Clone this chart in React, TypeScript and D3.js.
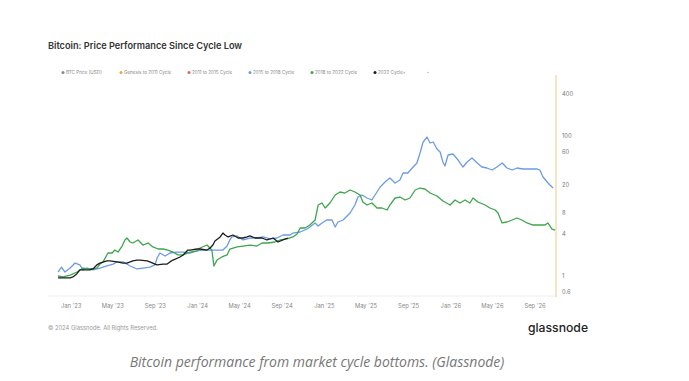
import React from "react";
import * as d3 from "d3";

const title = "Bitcoin: Price Performance Since Cycle Low";
const legendLabels = ["BTC Price [USD]", "Genesis to 2011 Cycle", "2011 to 2015 Cycle", "2015 to 2018 Cycle", "2018 to 2022 Cycle", "2022 Cycle+"];
const legendColors = ["#8a8a8a", "#e8a93a", "#e8645a", "#6b9be8", "#3ca64a", "#1c1c1c"];
const yTicks = [0.6, 1, 4, 8, 20, 60, 100, 400];
const cycleLow = new Date(2022, 10, 21);
const lastDay = 1429;

// [days since cycle low, multiple of cycle-low price]
const cycle2015: [number, number][] = [
  [3, 1.14], [13, 1.34], [23, 1.14], [38, 1.3], [52, 1.53], [66, 1.44], [75, 1.22], [87, 1.3], [104, 1.22],
  [124, 1.3], [144, 1.39], [162, 1.48], [173, 1.59], [191, 1.59], [211, 1.39], [231, 1.26], [248, 1.3],
  [268, 1.34], [283, 1.44], [289, 1.81], [297, 2.13], [312, 1.93], [326, 2.13], [346, 2.2], [364, 2.2],
  [384, 2.13], [404, 2.28], [422, 2.35], [442, 2.35], [462, 2.35], [479, 2.35], [491, 2.68], [499, 3.27],
  [505, 3.61], [520, 3.73], [537, 3.27], [557, 3.49], [577, 3.49], [595, 3.61], [615, 3.38], [635, 3.49],
  [652, 3.85], [673, 3.85], [681, 4.11], [702, 4.25], [722, 4.69], [730, 5.01], [745, 5.72], [754, 5.18],
  [765, 5.72], [779, 6.31], [794, 6.31], [803, 5.01], [811, 5.91], [826, 6.31], [846, 7.94], [860, 10.33],
  [869, 13.44], [881, 14.36], [895, 13.01], [909, 12.18], [918, 14.36], [933, 18.68], [947, 22.02],
  [961, 25.12], [976, 21.31], [990, 23.52], [999, 29.61], [1013, 29.61], [1028, 36.06], [1039, 41.13],
  [1048, 57.16], [1057, 82.08], [1068, 96.7], [1077, 79.43], [1086, 82.08], [1097, 65.2], [1106, 59.07],
  [1114, 42.51], [1120, 37.27], [1129, 53.52], [1143, 55.31], [1158, 45.4], [1172, 36.06], [1184, 42.51],
  [1198, 48.48], [1213, 41.13], [1227, 36.06], [1241, 34.9], [1256, 32.68], [1270, 36.06], [1285, 41.13],
  [1299, 34.9], [1314, 32.68], [1328, 34.9], [1345, 33.77], [1366, 33.77], [1386, 33.77], [1394, 32.68],
  [1403, 25.96], [1415, 22.02], [1423, 19.95], [1432, 18.07],
];

const cycle2018: [number, number][] = [
  [3, 1.0], [17, 0.97], [38, 1.03], [58, 1.14], [75, 1.3], [95, 1.26], [115, 1.3], [124, 1.48], [133, 1.59],
  [147, 2.13], [159, 2.13], [167, 2.35], [176, 2.2], [188, 2.68], [196, 3.27], [202, 3.49], [211, 3.06],
  [219, 2.96], [234, 3.27], [248, 2.77], [263, 2.96], [277, 2.6], [292, 2.43], [306, 2.43], [320, 2.35],
  [335, 2.2], [349, 2.0], [364, 2.0], [384, 2.2], [404, 2.28], [413, 2.51], [433, 2.77], [447, 2.35],
  [453, 1.39], [462, 1.69], [476, 1.87], [491, 2.0], [499, 2.43], [520, 2.6], [537, 2.68], [557, 2.77],
  [577, 2.68], [592, 2.96], [609, 2.96], [629, 3.06], [644, 3.27], [664, 3.38], [681, 3.61], [693, 3.98],
  [702, 4.85], [716, 4.85], [730, 5.35], [745, 6.31], [754, 10.33], [765, 11.04], [774, 9.36], [788, 11.04],
  [803, 14.36], [817, 15.85], [831, 15.33], [846, 16.93], [860, 15.85], [875, 14.36], [883, 11.41],
  [895, 10.33], [909, 11.04], [924, 9.36], [938, 9.36], [953, 8.77], [961, 10.33], [976, 13.01],
  [990, 13.44], [1005, 12.18], [1019, 13.01], [1034, 16.93], [1048, 18.07], [1062, 17.49], [1077, 15.33],
  [1097, 13.89], [1114, 11.79], [1135, 10.33], [1149, 12.18], [1163, 11.04], [1178, 12.18], [1192, 11.04],
  [1201, 13.01], [1215, 11.41], [1236, 10.33], [1250, 9.36], [1265, 8.77], [1273, 7.94], [1285, 5.72],
  [1299, 5.91], [1314, 6.31], [1328, 6.74], [1342, 6.31], [1357, 5.72], [1374, 5.35], [1394, 5.35],
  [1409, 5.35], [1417, 5.72], [1429, 4.69], [1438, 4.54],
];

const cycle2022: [number, number][] = [
  [3, 0.94], [17, 0.94], [38, 0.94], [46, 0.97], [57, 1.07], [66, 1.22], [75, 1.22], [95, 1.22], [104, 1.26],
  [115, 1.44], [124, 1.53], [144, 1.64], [153, 1.64], [173, 1.59], [191, 1.53], [202, 1.53], [219, 1.64],
  [231, 1.69], [240, 1.69], [260, 1.64], [268, 1.59], [283, 1.48], [289, 1.44], [306, 1.48], [318, 1.48],
  [326, 1.59], [335, 1.69], [355, 1.87], [364, 2.0], [378, 2.35], [384, 2.35], [404, 2.43], [413, 2.43],
  [433, 2.35], [442, 2.51], [450, 2.77], [456, 3.16], [471, 3.61], [479, 4.11], [485, 3.85], [494, 3.61],
  [508, 3.85], [523, 3.49], [537, 3.49], [549, 3.61], [557, 3.73], [572, 3.49], [592, 3.49], [606, 3.27],
  [624, 3.49], [638, 3.06], [652, 3.27], [667, 3.49],
];

const seriesList = [
  { name: "2015 to 2018 Cycle", data: cycle2015, color: "#6b9be8" },
  { name: "2018 to 2022 Cycle", data: cycle2018, color: "#3ca64a" },
  { name: "2022 Cycle+", data: cycle2022, color: "#1c1c1c" },
];

const legendX = [63, 121, 189, 250, 312, 375];

export default function App() {
  const x = d3.scaleTime().domain([cycleLow, d3.timeDay.offset(cycleLow, lastDay)]).range([57, 552]);
  const y = d3.scaleLog().domain([1, 100]).range([276, 136]);
  const line = d3
    .line<[number, number]>()
    .x((d) => x(d3.timeDay.offset(cycleLow, d[0])))
    .y((d) => y(d[1]));
  const xTicks = d3.timeMonth.every(4)!.range(d3.timeMonth.ceil(cycleLow), x.domain()[1]);
  const fmt = d3.timeFormat("%b '%y");

  return (
    <svg
      width={689}
      height={381}
      style={{ position: "absolute", left: 0, top: 0, background: "#fff" }}
      fontFamily="Inter, 'Noto Sans', sans-serif"
    >
      <text x={48} y={49} fontSize={9.2} fontWeight={600} fill="#333">
        {title}
      </text>
      {legendLabels.map((l, i) => (
        <g key={l}>
          <circle cx={legendX[i]} cy={72.5} r={1.5} fill={legendColors[i]} />
          <text x={legendX[i] + 3} y={74.2} fontSize={4.6} fill="#888">
            {l}
          </text>
        </g>
      ))}
      <circle cx={428} cy={72.5} r={0.8} fill="#bbb" />

      <line x1={48} x2={556} y1={296} y2={296} stroke="#eeeeee" strokeWidth={1} />
      <line x1={556} x2={556} y1={75} y2={297} stroke="#f0d39e" strokeWidth={1.2} />

      {yTicks.map((t) => (
        <text key={t} x={562} y={y(t) + 2} fontSize={5.8} fill="#777">
          {t}
        </text>
      ))}
      {xTicks.map((t) => (
        <text key={+t} x={x(t)} y={308} fontSize={5.8} fill="#888" textAnchor="middle">
          {fmt(t)}
        </text>
      ))}

      {seriesList.map((s) => (
        <path key={s.name} d={line(s.data) || ""} fill="none" stroke={s.color} strokeWidth={1.3} strokeLinejoin="round" />
      ))}

      <text x={48} y={330} fontSize={5.8} fill="#999">
        © 2024 Glassnode. All Rights Reserved.
      </text>
      <text x={528} y={332} fontSize={12.2} fontWeight={500} fill="#222">
        glassnode
      </text>
      <text
        x={317}
        y={367}
        fontSize={14}
        fontStyle="italic"
        fill="#777"
        textAnchor="middle"
        fontFamily="'Open Sans', sans-serif"
      >
        Bitcoin performance from market cycle bottoms. (Glassnode)
      </text>
    </svg>
  );
}
